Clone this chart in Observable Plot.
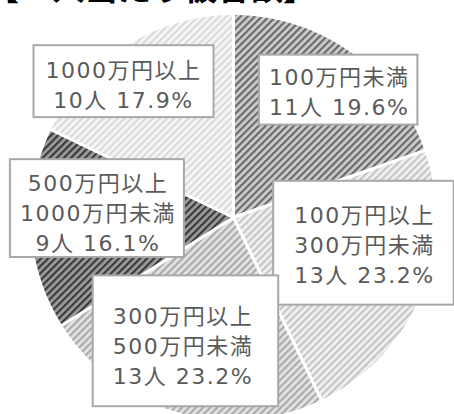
<!DOCTYPE html>
<html><head><meta charset="utf-8">
<script src="https://cdn.jsdelivr.net/npm/d3@7"></script>
<script src="https://cdn.jsdelivr.net/npm/@observablehq/plot@0.6"></script>
<style>
html,body{margin:0;padding:0;background:#fff;overflow:hidden;}
#wrap{position:relative;width:454px;height:414px;overflow:hidden;}
#title{position:absolute;left:-14px;top:-32px;font-family:"Noto Sans CJK JP",sans-serif;font-weight:bold;font-size:33px;line-height:36px;color:#000;white-space:nowrap;}
#chart{position:absolute;left:0;top:0;}
</style></head><body>
<div id="wrap"><div id="chart"></div><div id="title"></div></div>
<script>
// ---- data ----
const title = "【一人当たり被害額】";
const categories = ["100万円未満", "100万円以上\n300万円未満", "300万円以上\n500万円未満", "500万円以上\n1000万円未満", "1000万円以上"];
const counts = [11, 13, 13, 9, 10];
const percents = [19.6, 23.2, 23.2, 16.1, 17.9];

// ---- layout / style ----
const W = 454, H = 414, CX = 233, CY = 217, R = 204;
const patterns = [
  {bg: "#cdcdcd", fg: "#6a6a6a"},
  {bg: "#f1f1f1", fg: "#c6c6c6"},
  {bg: "#e4e4e4", fg: "#ababab"},
  {bg: "#9c9c9c", fg: "#3a3a3a"},
  {bg: "#f7f7f7", fg: "#dadada"}
];
const labelRadius = 0.7;
const labelNudge = [[23, -11], [-1, -29], [-11, -10], [7, -14], [-34, -13]];
// box padding around text bbox: [left, right, top, bottom]
const boxPad = [[10, 8, 10, 5], [21, 19, 22, 17], [20, 25, 29, 17], [10, 8, 12, 1], [12, 12, 13, 4]];

document.getElementById("title").textContent = title;

const arcs = d3.pie().sort(null).value(d => d)(counts);
const slices = [];
arcs.forEach((a, i) => {
  const n = Math.max(2, Math.ceil((a.endAngle - a.startAngle) / 0.01));
  slices.push({i, x: 0, y: 0});
  for (let k = 0; k <= n; k++) {
    const t = a.startAngle + (a.endAngle - a.startAngle) * k / n;
    slices.push({i, x: Math.sin(t), y: Math.cos(t)});
  }
  slices.push({i, x: 0, y: 0});
});
const labels = arcs.map((a, i) => {
  const m = (a.startAngle + a.endAngle) / 2;
  return {
    x: labelRadius * Math.sin(m) + labelNudge[i][0] / R,
    y: labelRadius * Math.cos(m) - labelNudge[i][1] / R,
    text: `${categories[i]}\n${counts[i]}人 ${percents[i].toFixed(1)}%`
  };
});

const defsMark = () => {
  const defs = d3.create("svg:defs");
  patterns.forEach((p, i) => {
    const pat = defs.append("pattern").attr("id", "pat" + i)
      .attr("patternUnits", "userSpaceOnUse").attr("width", 5).attr("height", 5)
      .attr("patternTransform", "rotate(45)");
    pat.append("rect").attr("width", 5).attr("height", 5).attr("fill", p.bg);
    pat.append("rect").attr("width", 2.2).attr("height", 5).attr("fill", p.fg);
  });
  return defs.node();
};

const chart = Plot.plot({
  width: W, height: H, margin: 0,
  x: {domain: [-CX / R, (W - CX) / R], axis: null},
  y: {domain: [-(H - CY) / R, CY / R], axis: null},
  color: {type: "identity"},
  style: {background: "transparent", overflow: "visible"},
  marks: [
    defsMark,
    Plot.line(slices, {x: "x", y: "y", z: "i", fill: d => `url(#pat${d.i})`, stroke: "white", strokeWidth: 3, strokeLinejoin: "round"}),
    Plot.text(labels, {x: "x", y: "y", text: "text", fill: "#5a5a5a", fontSize: 22, lineHeight: 1.36,
      fontFamily: '"DejaVu Sans","Noto Sans CJK JP",sans-serif', textAnchor: "middle", lineAnchor: "middle"})
  ]
});
document.getElementById("chart").append(chart);
chart.querySelectorAll('g[aria-label="text"] text').forEach((t, i) => {
  t.style.letterSpacing = "1.5px";
  const b = t.getBBox();
  const p = boxPad[i];
  const r = document.createElementNS("http://www.w3.org/2000/svg", "rect");
  r.setAttribute("x", b.x - p[0]);
  r.setAttribute("y", b.y - p[2]);
  r.setAttribute("width", b.width + p[0] + p[1]);
  r.setAttribute("height", b.height + p[2] + p[3]);
  r.setAttribute("fill", "white");
  r.setAttribute("stroke", "#a8a8a8");
  r.setAttribute("stroke-width", 2);
  if (t.getAttribute("transform")) r.setAttribute("transform", t.getAttribute("transform"));
  t.parentNode.insertBefore(r, t);
});
</script>
</body></html>
